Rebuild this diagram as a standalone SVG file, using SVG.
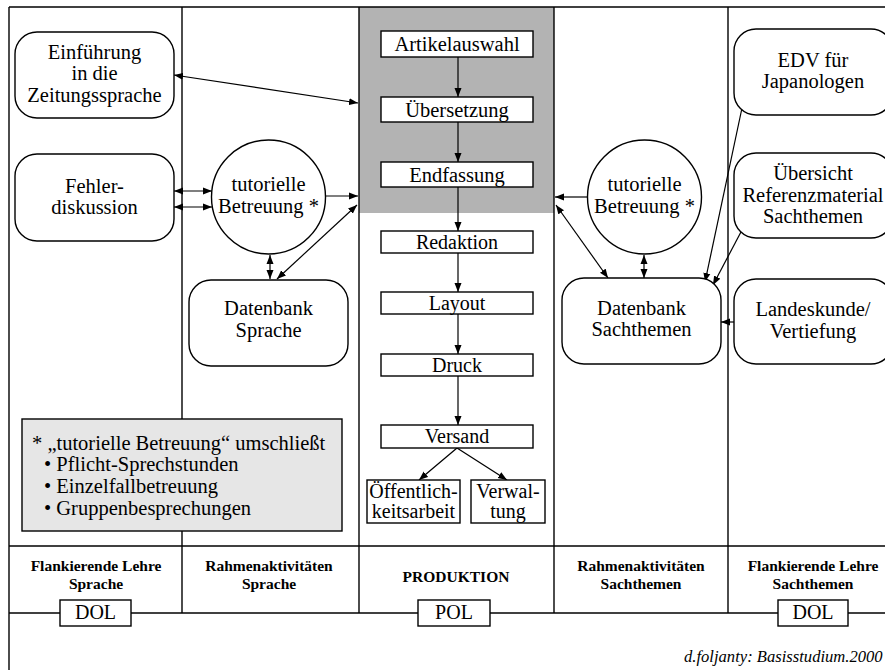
<svg xmlns="http://www.w3.org/2000/svg" width="885" height="670" viewBox="0 0 885 670">
<style>
.t{font-family:"Liberation Serif","Times New Roman",serif;font-size:20.5px;text-anchor:middle;fill:#000}
.ts{font-family:"Liberation Serif","Times New Roman",serif;font-size:20px;text-anchor:middle;fill:#000}
.tl{font-family:"Liberation Serif","Times New Roman",serif;font-size:20.5px;fill:#000}
.b{font-family:"Liberation Serif","Times New Roman",serif;font-size:15.5px;font-weight:bold;text-anchor:middle;fill:#000}
.it{font-family:"Liberation Serif","Times New Roman",serif;font-size:16.6px;font-style:italic;fill:#000}
.box{fill:#fff;stroke:#000;stroke-width:1.4}
.ln{stroke:#000;stroke-width:1.4;fill:none}
.c{stroke:#000;stroke-width:1.2;fill:none}
.a1{marker-end:url(#ah)}
.a2{marker-start:url(#ah);marker-end:url(#ah)}
</style>
<defs>
<marker id="ah" markerUnits="userSpaceOnUse" markerWidth="9" markerHeight="8" refX="9" refY="4" orient="auto-start-reverse">
<path d="M0,0.5 L9,4 L0,7.5 z" fill="#000"/>
</marker>
</defs>
<rect width="885" height="670" fill="#fff"/>
<g id="frame">
<rect x="359" y="7" width="195" height="206" fill="#b3b3b3"/>
<line class="ln" x1="9" y1="7" x2="900" y2="7"/>
<line class="ln" x1="9" y1="7" x2="9" y2="670"/>
<line class="ln" x1="182" y1="7" x2="182" y2="613"/>
<line class="ln" x1="359" y1="7" x2="359" y2="613"/>
<line class="ln" x1="554" y1="7" x2="554" y2="613"/>
<line class="ln" x1="728" y1="7" x2="728" y2="613"/>
<line class="ln" x1="9" y1="546" x2="900" y2="546"/>
<line class="ln" x1="9" y1="613" x2="60" y2="613"/>
<line class="ln" x1="131" y1="613" x2="418" y2="613"/>
<line class="ln" x1="490" y1="613" x2="778" y2="613"/>
<line class="ln" x1="848" y1="613" x2="900" y2="613"/>
</g>
<g id="footer">
<text class="b" x="96" y="571">Flankierende Lehre</text>
<text class="b" x="96" y="589">Sprache</text>
<text class="b" x="269" y="571">Rahmenaktivitäten</text>
<text class="b" x="269" y="589">Sprache</text>
<text class="b" x="456" y="582">PRODUKTION</text>
<text class="b" x="641" y="571">Rahmenaktivitäten</text>
<text class="b" x="641" y="589">Sachthemen</text>
<text class="b" x="813" y="571">Flankierende Lehre</text>
<text class="b" x="813" y="589">Sachthemen</text>
<g id="dol1"><rect class="box" x="60" y="600" width="71" height="26"/><text class="ts" x="95.5" y="619">DOL</text></g>
<g id="pol"><rect class="box" x="418" y="600" width="72" height="26"/><text class="ts" x="454" y="619">POL</text></g>
<g id="dol2"><rect class="box" x="778" y="600" width="70" height="26"/><text class="ts" x="813" y="619">DOL</text></g>
<text class="it" x="684" y="662">d.foljanty: Basisstudium.2000</text>
</g>
<g id="connectors">
<line class="c a2" x1="174" y1="75" x2="358" y2="103"/>
<line class="c a2" x1="174" y1="191" x2="212" y2="191"/>
<line class="c a2" x1="174" y1="207" x2="212" y2="207"/>
<line class="c a1" x1="325" y1="196" x2="358" y2="196"/>
<line class="c a2" x1="277" y1="279" x2="357" y2="205"/>
<line class="c a2" x1="270" y1="255" x2="270" y2="279"/>
<line class="c a1" x1="458" y1="57" x2="458" y2="97"/>
<line class="c a1" x1="458" y1="122" x2="458" y2="162"/>
<line class="c a1" x1="458" y1="187" x2="458" y2="231"/>
<line class="c a1" x1="458" y1="253" x2="458" y2="292"/>
<line class="c a1" x1="458" y1="314" x2="458" y2="354"/>
<line class="c a1" x1="458" y1="376" x2="458" y2="425"/>
<line class="c a1" x1="457" y1="448" x2="419" y2="480"/>
<line class="c a1" x1="457" y1="448" x2="507" y2="480"/>
<line class="c a1" x1="587" y1="197" x2="555" y2="197"/>
<line class="c a2" x1="556" y1="205" x2="608" y2="278"/>
<line class="c a2" x1="644" y1="255" x2="644" y2="278"/>
<line class="c a1" x1="742" y1="108" x2="705" y2="282"/>
<line class="c a1" x1="742" y1="230" x2="713" y2="285"/>
<line class="c a1" x1="734" y1="322" x2="721" y2="322"/>
</g>
<g id="n_einfuehrung"><rect class="box" x="15" y="32" width="159" height="86" rx="22"/>
<text class="t" x="94.5" y="59">Einführung</text><text class="t" x="94.5" y="80">in die</text><text class="t" x="94.5" y="102">Zeitungssprache</text></g>
<g id="n_fehler"><rect class="box" x="15" y="154" width="159" height="87" rx="22"/>
<text class="t" x="94.5" y="193">Fehler-</text><text class="t" x="94.5" y="214">diskussion</text></g>
<g id="n_tutor_l"><circle class="box" cx="268.5" cy="197" r="57"/>
<text class="t" x="268.5" y="191">tutorielle</text><text class="t" x="268.5" y="213">Betreuung *</text></g>
<g id="n_db_sprache"><rect class="box" x="189" y="280" width="159" height="86" rx="22"/>
<text class="t" x="268.5" y="315">Datenbank</text><text class="t" x="268.5" y="337">Sprache</text></g>
<g id="n_footnote"><rect x="22" y="419" width="320" height="112" fill="#e6e6e6" stroke="#000" stroke-width="1.4"/>
<text class="tl" x="32" y="450">* „tutorielle Betreuung“ umschließt</text>
<text class="tl" x="44" y="471">• Pflicht-Sprechstunden</text>
<text class="tl" x="44" y="493">• Einzelfallbetreuung</text>
<text class="tl" x="44" y="515">• Gruppenbesprechungen</text></g>
<g id="n_artikel"><rect class="box" x="381" y="31" width="152" height="26"/><text class="t" x="457" y="51">Artikelauswahl</text></g>
<g id="n_uebers"><rect class="box" x="381" y="97" width="152" height="25"/><text class="t" x="457" y="117">Übersetzung</text></g>
<g id="n_endf"><rect class="box" x="381" y="162" width="152" height="25"/><text class="t" x="457" y="182">Endfassung</text></g>
<g id="n_redak"><rect class="box" x="381" y="231" width="152" height="22"/><text class="ts" x="457" y="249">Redaktion</text></g>
<g id="n_layout"><rect class="box" x="381" y="292" width="152" height="22"/><text class="ts" x="457" y="310">Layout</text></g>
<g id="n_druck"><rect class="box" x="381" y="354" width="152" height="22"/><text class="ts" x="457" y="372">Druck</text></g>
<g id="n_versand"><rect class="box" x="381" y="425" width="152" height="23"/><text class="ts" x="457" y="443">Versand</text></g>
<g id="n_oeff"><rect class="box" x="367" y="480" width="93" height="43"/>
<text class="ts" x="413.5" y="498">Öffentlich-</text><text class="ts" x="413.5" y="518">keitsarbeit</text></g>
<g id="n_verw"><rect class="box" x="471" y="480" width="74" height="43"/>
<text class="ts" x="508" y="498">Verwal-</text><text class="ts" x="508" y="518">tung</text></g>
<g id="n_tutor_r"><circle class="box" cx="644.5" cy="197" r="57"/>
<text class="t" x="644.5" y="191">tutorielle</text><text class="t" x="644.5" y="213">Betreuung *</text></g>
<g id="n_db_sach"><rect class="box" x="562" y="278" width="159" height="86" rx="22"/>
<text class="t" x="641.5" y="315">Datenbank</text><text class="t" x="641.5" y="336">Sachthemen</text></g>
<g id="n_edv"><rect class="box" x="734" y="29" width="159" height="86" rx="22"/>
<text class="t" x="813" y="67">EDV für</text><text class="t" x="813" y="88">Japanologen</text></g>
<g id="n_uebersicht"><rect class="box" x="734" y="153" width="159" height="85" rx="22"/>
<text class="t" x="813" y="180">Übersicht</text><text class="t" x="813" y="202">Referenzmaterial</text><text class="t" x="813" y="223">Sachthemen</text></g>
<g id="n_landes"><rect class="box" x="734" y="279" width="159" height="85" rx="22"/>
<text class="t" x="813" y="316">Landeskunde/</text><text class="t" x="813" y="338">Vertiefung</text></g>
</svg>
